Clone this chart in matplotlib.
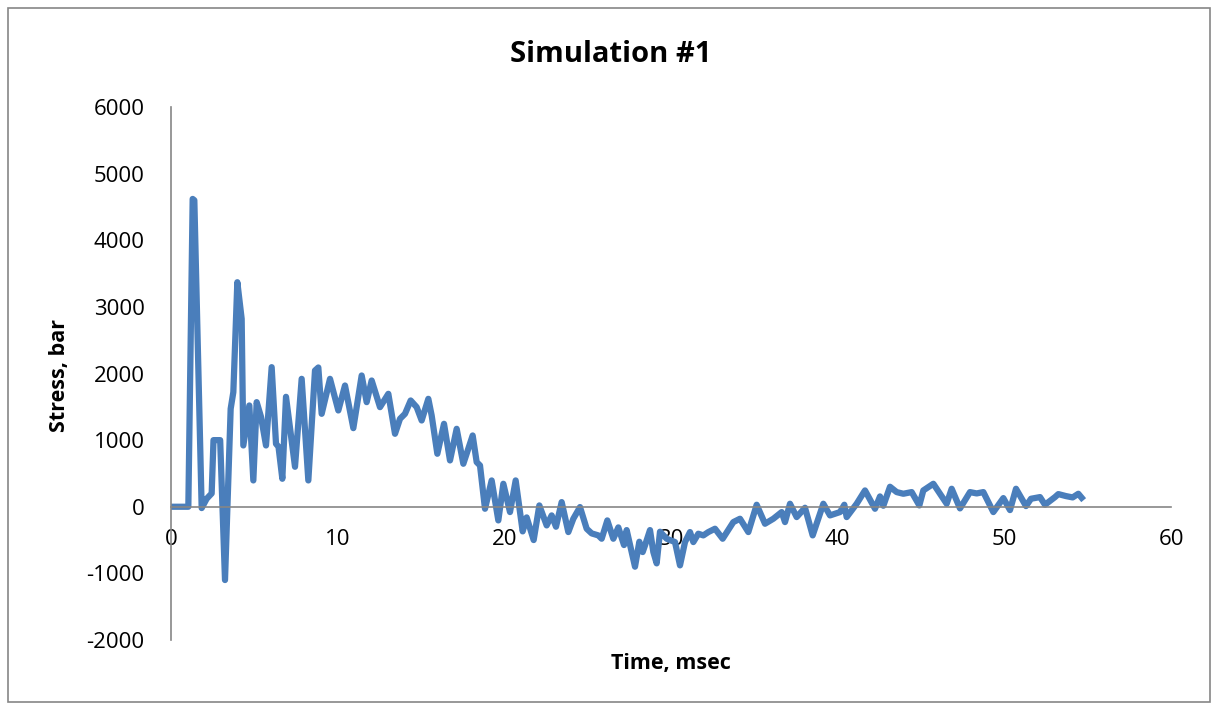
import matplotlib
matplotlib.use("Agg")
import matplotlib.pyplot as plt
from matplotlib.patches import Rectangle

# values
time_ms = [0.0, 1.04, 1.3, 1.4, 1.84, 2.14, 2.44, 2.55, 2.95, 3.24, 3.58, 3.74, 3.98,
           4.24, 4.34, 4.7, 4.94, 5.14, 5.4, 5.7, 6.04, 6.3, 6.45, 6.68, 6.9, 7.44, 7.84,
           8.24, 8.64, 8.84, 9.04, 9.54, 10.04, 10.44, 10.94, 11.44, 11.74, 12.04, 12.54,
           13.04, 13.44, 13.74, 14.04, 14.38, 14.74, 15.04, 15.44, 15.64, 15.98, 16.38,
           16.74, 17.14, 17.54, 18.1, 18.34, 18.54, 18.84, 19.24, 19.64, 19.94, 20.34,
           20.68, 21.1, 21.34, 21.76, 22.1, 22.54, 22.84, 23.1, 23.44, 23.84, 24.14,
           24.54, 24.94, 25.24, 25.64, 25.84, 26.18, 26.54, 26.84, 27.18, 27.34, 27.84,
           28.1, 28.3, 28.44, 28.74, 28.94, 29.14, 29.34, 29.74, 30.24, 30.54, 30.84,
           31.14, 31.34, 31.64, 31.94, 32.24, 32.64, 33.1, 33.74, 34.14, 34.64, 35.14,
           35.64, 36.14, 36.64, 36.84, 37.14, 37.54, 38.04, 38.5, 39.14, 39.54, 40.14,
           40.4, 40.54, 41.14, 41.64, 42.24, 42.54, 42.74, 43.14, 43.54, 43.94, 44.44,
           44.9, 45.14, 45.74, 46.54, 46.84, 47.34, 47.94, 48.34, 48.74, 49.34, 49.94,
           50.34, 50.7, 51.3, 51.6, 52.14, 52.44, 53.04, 53.24, 53.7, 54.1, 54.44, 54.64]
stress_bar = [0, 0, 4620, 4600, -20, 120, 200, 1000, 1000, -1100, 1470, 1720, 3370,
              2820, 920, 1520, 395, 1570, 1350, 920, 2095, 945, 900, 420, 1650, 600, 1920,
              395, 2045, 2090, 1395, 1920, 1445, 1820, 1180, 1970, 1570, 1895, 1495,
              1695, 1095, 1320, 1395, 1595, 1495, 1295, 1620, 1370, 795, 1245,
              695, 1170, 645, 1070, 670, 620, -30, 395, -205, 345, -80,
              395, -370, -160, -500, 20, -280, -130, -300, 70, -380, -180,
              -5, -330, -400, -430, -480, -205, -480, -310, -575, -350, -900,
              -525, -680, -580, -350, -680, -850, -375, -480, -530, -880, -530,
              -380, -530, -405, -430, -380, -330, -480, -230, -180, -380, 30,
              -255, -180, -80, -230, 45, -155, -15, -430, 45, -130, -80,
              30, -155, 45, 245, -30, 155, 15, 300, 220, 195, 220,
              20, 245, 345, 45, 270, -25, 220, 200, 220, -80, 130,
              -50, 270, 10, 120, 145, 30, 145, 190, 160, 140, 195, 135]

x_ticks = [0, 10, 20, 30, 40, 50, 60]
y_ticks = [-2000, -1000, 0, 1000, 2000, 3000, 4000, 5000, 6000]

plt.rcParams['font.family'] = ['Open Sans', 'DejaVu Sans']
plt.rcParams['axes.unicode_minus'] = False

fig = plt.figure(figsize=(12.12, 7.06), dpi=100)
ax = fig.add_axes([171/1212, 1 - 640/706, 1000/1212, 533/706])

ax.plot(time_ms, stress_bar, color='#4a7ebb', linewidth=4.5, solid_joinstyle='round')

ax.set_xlim(0, 60)
ax.set_ylim(-2000, 6000)
ax.set_xticks(x_ticks)
ax.set_yticks(y_ticks)

# excel-style axes: x axis line crosses at zero
ax.spines['top'].set_visible(False)
ax.spines['right'].set_visible(False)
ax.spines['bottom'].set_position(('data', 0))
for s in ['left', 'bottom']:
    ax.spines[s].set_color('#868686')
    ax.spines[s].set_linewidth(1.2)
ax.tick_params(axis='both', length=0, labelsize=16)
ax.tick_params(axis='x', pad=16)
ax.tick_params(axis='y', pad=19)

fig.text(611/1212, 1 - 55/706, 'Simulation #1', fontsize=21, fontweight='bold',
         ha='center', va='center')
fig.text(60/1212, 1 - 375/706, 'Stress, bar', fontsize=15.5, fontweight='bold',
         ha='center', va='center', rotation=90)
fig.text(671/1212, 1 - 663/706, 'Time, msec', fontsize=15.5, fontweight='bold',
         ha='center', va='center')

# chart area border
fig.patches.append(Rectangle((8/1212, 0.005), 1 - 8/1212 - 0.002, 1 - 8/706 - 0.005,
                             transform=fig.transFigure, fill=False,
                             edgecolor='#868686', linewidth=1.2))

fig.savefig('out.png', dpi=100)
